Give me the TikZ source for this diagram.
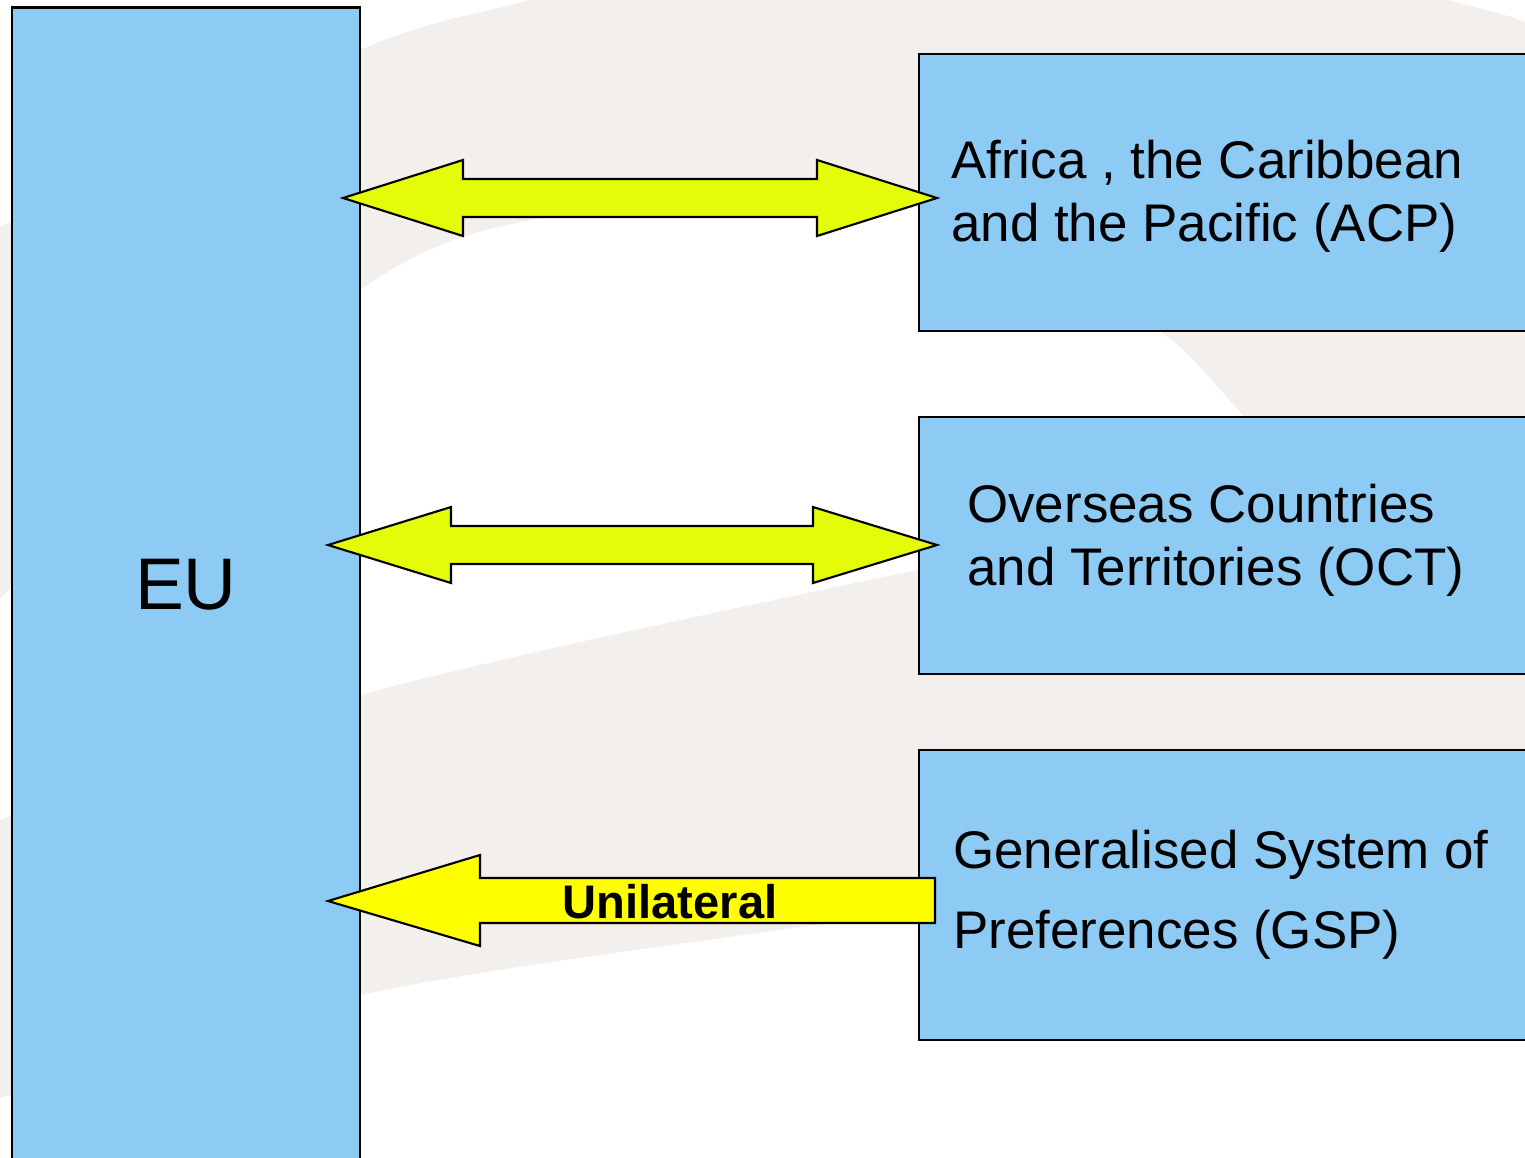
\documentclass[tikz,border=0pt]{standalone}
\usepackage{fontspec}
\setmainfont{Liberation Sans}

\definecolor{boxblue}{HTML}{8DCBF5}
\definecolor{limeyellow}{HTML}{E4FC08}
\definecolor{pureyellow}{HTML}{FFFF00}
\definecolor{swoosh}{HTML}{F2EFEC}

% two-headed block arrow: y, left tip, left back, right back, right tip
\newcommand{\twoway}[5]{%
  \draw[accord] (#2,#1) -- (#3,#1-38) -- (#3,#1-19) -- (#4,#1-19) -- (#4,#1-38)
    -- (#5,#1) -- (#4,#1+38) -- (#4,#1+19) -- (#3,#1+19) -- (#3,#1+38) -- cycle;}

\begin{document}
\begin{tikzpicture}[x=0.01cm,y=-0.01cm,
    region/.style={draw=black, line width=0.7pt, fill=boxblue, minimum width=6.21cm},
    boxtext/.style={anchor=west, align=left, inner sep=0pt, font=\fontsize{15.05}{17.9}\selectfont},
    accord/.style={draw=black, line width=0.6pt, fill=limeyellow, line join=miter},
    oneway/.style={draw=black, line width=0.6pt, fill=pureyellow, line join=miter}]

    \useasboundingbox (0,0) rectangle (1525,1157);
    \clip (0,0) rectangle (1525,1157);
    \fill[white] (0,0) rectangle (1525,1157);

    % background swooshes
    \fill[swoosh] plot[smooth] coordinates {(-30,242) (0,227) (360,50) (530,0) (800,-70) (1150,-70) (1447,0) (1525,22) (1600,55)}
      -- (1600,800)
      -- plot[smooth] coordinates {(1500,700) (1243,415) (1163,333) (1000,225) (830,188) (545,217) (360,290) (0,598) (-30,625)}
      -- cycle;
    \fill[swoosh] plot[smooth] coordinates {(-30,832) (0,820) (360,695) (918,570) (1600,440)}
      -- plot[smooth] coordinates {(1600,820) (800,927) (360,995) (0,1098) (-30,1108)}
      -- cycle;

    \node[region, minimum width=3.48cm, minimum height=11.54cm,
          font=\fontsize{20.8}{24}\selectfont] (eu) at (186,585) {EU};

    \node[region, minimum height=2.77cm] (acp) at (1229.5,192.5) {};
    \node[region, minimum height=2.57cm] (oct) at (1229.5,545.5) {};
    \node[region, minimum height=2.90cm] (gsp) at (1229.5,895) {};

    \node[boxtext] (acptext) at ([xshift=0.33cm, yshift=-0.04cm]acp.west)
      {Africa , the Caribbean\\and the Pacific (ACP)};
    \node[boxtext] (octtext) at ([xshift=0.49cm, yshift=0.05cm]oct.west)
      {Overseas Countries\\and Territories (OCT)};
    \node[boxtext, font=\fontsize{15.05}{22.8}\selectfont] (gsptext) at ([xshift=0.35cm]gsp.west)
      {Generalised System of\\Preferences (GSP)};

    \twoway{198}{343}{463}{817}{937}
    \twoway{545}{328}{451}{813}{937}

    \draw[oneway] (328,901) -- (480,855) -- (480,878) -- (935,878) -- (935,923)
      -- (480,923) -- (480,946) -- cycle;
    \node[font=\bfseries\fontsize{13.4}{16}\selectfont, inner sep=0] (uni) at (670,902) {Unilateral};
\end{tikzpicture}
\end{document}
